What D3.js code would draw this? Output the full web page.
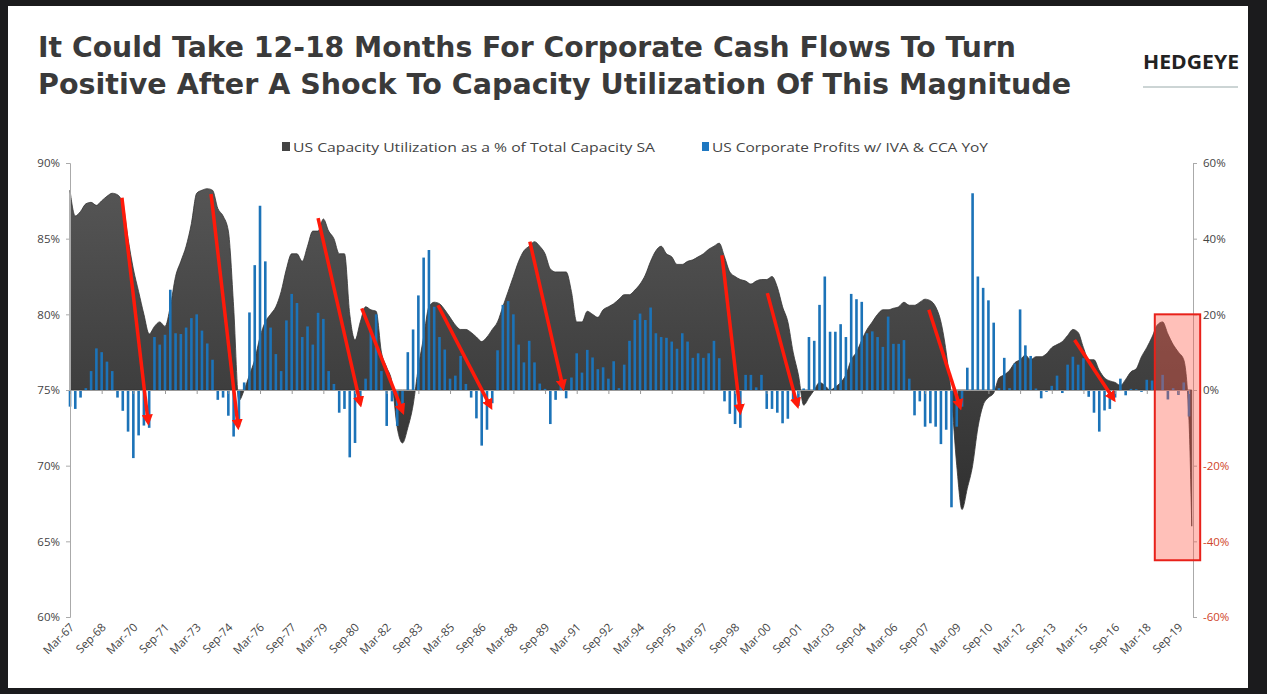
<!DOCTYPE html>
<html><head><meta charset="utf-8">
<script src="https://cdn.jsdelivr.net/npm/d3@7"></script>
<style>body{margin:0;background:#1b1b1d;}svg{display:block}</style>
</head><body><svg id="c" width="1267" height="694"></svg>
<script>
// ---- data ----
const startYear = 1967.17; // Mar-67, quarterly observations
const capUtil = [
88.2,86.5,86.8,87.3, 87.4,87.2,87.5,87.8, 88.0,87.9,87.3,85.0, 83.0,81.5,80.0,78.7,
79.2,79.5,79.2,80.5, 82.5,83.5,84.5,86.0, 88.0,88.2,88.3,88.2, 87.0,86.5,85.5,80.5,
74.3,75.0,76.0,77.0, 78.5,79.5,80.0,80.5, 81.5,83.0,84.0,84.0, 83.5,84.5,85.5,85.5,
86.3,85.5,85.0,84.0, 84.0,80.0,78.3,79.5, 80.5,80.3,80.2,77.5, 76.5,75.5,72.5,71.5,
72.5,74.0,76.5,78.5, 80.5,80.8,80.7,80.3, 79.8,79.3,79.0,79.0, 78.8,78.5,78.2,78.5,
79.0,79.5,80.5,81.5, 82.5,83.5,84.2,84.5, 84.8,84.5,84.0,83.0, 82.8,82.8,82.8,81.5,
79.5,79.5,80.2,80.0, 79.8,80.3,80.5,80.7, 81.0,81.3,81.3,81.6, 82.0,82.6,83.5,84.2,
84.5,84.0,83.8,83.3, 83.3,83.5,83.6,83.8, 84.0,84.3,84.5,84.7, 83.8,82.8,82.5,82.3,
82.2,82.0,82.2,82.3, 82.3,82.5,81.8,80.5, 79.5,77.5,76.0,74.0, 74.5,75.0,75.5,75.3,
75.0,75.2,75.5,76.0, 77.0,77.5,78.3,79.0, 79.5,80.0,80.3,80.3, 80.4,80.5,80.8,80.6,
80.6,80.8,81.0,80.9, 80.5,79.5,77.5,74.5, 70.0,67.1,68.5,70.0, 72.5,74.0,74.5,74.8,
75.8,76.0,76.3,76.8, 77.0,77.3,77.0,77.2, 77.2,77.4,77.8,78.0, 78.2,78.6,79.0,78.8,
77.8,77.0,77.0,76.3, 75.8,75.6,75.5,75.3, 75.7,76.2,76.4,77.2, 77.8,78.5,79.3,79.5,
78.7,78.0,77.5,77.0, 73.0];
const capUtilLast = {year: 2020.3, value: 66.0};
const profitsYoY = [
-4.4,-5,-2,0.5,5,11,10,7.5,5,-2,-5.5,-11,-18,-12,-9.4,-10,14,12,14.6,26.5,15,14.8,16.5,19,20,15.7,12.3,8,-2.6,-2,-6.8,-12.3,-9.7,2,20.5,33,48.7,34,16.5,9.5,5,18.4,25.4,23,14,16.8,12,20.4,18.8,5,1.6,-6,-5,-17.8,
-14,-4,3,16,20,5,-9.5,-3,-9.5,-6,10,16,25,35,37,22,14,10.7,3,3.8,9,1.6,-2,-7.5,-14.7,-10.5,-3.5,10.5,22.5,23.5,20,12,7.3,13,7.3,1.7,0.3,-9,-2.6,1.5,-2.2,3.3,9.7,4.6,10.6,8.6,5.5,6,3,7.6,0.5,6.7,13,
18.5,20.2,18.5,21.8,15,14,13.8,12.8,10.9,15,12.8,8.5,9.7,8.5,9.7,13,8.4,-3,-6.3,-9,-10,4,4,0.7,4,-5,-5,-6,-8.8,-7.6,-2.5,-4.2,0.4,14,13,22.5,30,15.4,15.4,17.4,14,25.4,24,23.3,15,15.5,14,11.4,19.4,12.2,12.2,13.2,3,
-6.7,-3,-9.7,-8.8,-9.7,-14.3,-10.5,-31,-9.7,-4.4,5.9,52,30,27,23.7,17.8,0.5,8.5,0.5,7,21.3,11.8,9,0.4,-2.2,-0.5,1.1,3.8,-0.8,6.7,8.8,6.7,8.4,-1.8,-6,-11,-5.4,-5,-2,3,-1.4,0.3,0.2,-0.5,2.7,2.5,0,4,-2.5,0.5,-1.3,2,-7];
const dateLabels = ["Mar-67","Sep-68","Mar-70","Sep-71","Mar-73","Sep-74","Mar-76","Sep-77","Mar-79","Sep-80","Mar-82","Sep-83","Mar-85","Sep-86","Mar-88","Sep-89","Mar-91","Sep-92","Mar-94","Sep-95","Mar-97","Sep-98","Mar-00","Sep-01","Mar-03","Sep-04","Mar-06","Sep-07","Mar-09","Sep-10","Mar-12","Sep-13","Mar-15","Sep-16","Mar-18","Sep-19"];
const leftTicks = [60,65,70,75,80,85,90];
const rightTicks = [-60,-40,-20,0,20,40,60];
// annotation arrows: [startYear, startCU, endYear, endCU]
const arrows = [
[1969.63,87.7,1970.86,73.0],[1973.85,87.95,1975.12,72.7],[1978.92,86.36,1980.9,74.2],
[1980.99,80.4,1982.89,73.7],[1984.6,80.6,1987.05,74.0],[1988.95,84.8,1990.5,75.3],
[1998.05,83.9,1998.9,73.7],[2000.2,81.4,2001.6,74.1],[2007.85,80.3,2009.3,74.0],
[2014.75,78.3,2016.55,74.5]];
const highlight = {from: 2018.55, to: 2020.7, top: 20, bottom: -45};

// ---- chart ----
const svg = d3.select("#c");
svg.append("rect").attr("x",8).attr("y",6).attr("width",1240).attr("height",682).attr("fill","#fff");

const x = d3.scaleLinear().domain([startYear, startYear+212*0.25]).range([70,1189]);
const yL = d3.scaleLinear().domain([60,90]).range([617,163]);
const yR = d3.scaleLinear().domain([-60,60]).range([617,163]);
const qYear = i => startYear + i*0.25;

// title
const title = svg.append("text").attr("font-family","'DejaVu Sans', sans-serif").attr("font-weight",700).attr("font-size",28).attr("fill","#3a3a3a").attr("lengthAdjust","spacingAndGlyphs");
title.append("tspan").attr("x",38).attr("y",57).attr("textLength",978).attr("lengthAdjust","spacingAndGlyphs").text("It Could Take 12-18 Months For Corporate Cash Flows To Turn");
title.append("tspan").attr("x",38).attr("y",94).attr("textLength",1033).attr("lengthAdjust","spacingAndGlyphs").text("Positive After A Shock To Capacity Utilization Of This Magnitude");
svg.append("text").attr("x",1143).attr("y",69).attr("textLength",96).attr("lengthAdjust","spacingAndGlyphs").attr("font-family","'Open Sans', sans-serif").attr("font-weight",700).attr("font-size",19).attr("fill","#222").text("HEDGEYE");
svg.append("line").attr("x1",1143).attr("x2",1238).attr("y1",87).attr("y2",87).attr("stroke","#9aa").attr("stroke-width",1);

// legend
const lg = svg.append("g").attr("font-family","'Open Sans', sans-serif").attr("font-size",13.5).attr("fill","#444");
lg.append("rect").attr("x",282).attr("y",142).attr("width",8).attr("height",9).attr("fill","#444");
lg.append("text").attr("x",293).attr("y",152).attr("textLength",362).attr("lengthAdjust","spacingAndGlyphs").text("US Capacity Utilization as a % of Total Capacity SA");
lg.append("rect").attr("x",702).attr("y",142).attr("width",7).attr("height",9).attr("fill","#1f78c1");
lg.append("text").attr("x",712).attr("y",152).attr("textLength",276).attr("lengthAdjust","spacingAndGlyphs").text("US Corporate Profits w/ IVA & CCA YoY");

// area
const cuPts = capUtil.map((v,i)=>({year:qYear(i), value:v})).concat([capUtilLast]);
const area = d3.area().x(d=>x(d.year)).y0(yL(75)).y1(d=>yL(d.value)).curve(d3.curveMonotoneX);
const grad = svg.append("defs").append("linearGradient").attr("id","g").attr("x1",0).attr("x2",0).attr("y1",0).attr("y2",1);
grad.append("stop").attr("offset","0").attr("stop-color","#555");
grad.append("stop").attr("offset","1").attr("stop-color","#2e2e2e");
svg.append("path").datum(cuPts).attr("d",area).attr("fill","url(#g)").attr("stroke","#333").attr("stroke-width",0.8);

// bars
svg.append("g").selectAll("rect").data(profitsYoY).join("rect")
  .attr("x",(d,i)=>x(qYear(i))-1.3).attr("width",2.6)
  .attr("y",d=>yR(Math.max(0,d))).attr("height",d=>Math.abs(yR(d)-yR(0)))
  .attr("fill","#1c73b8");

// axes
const axL = svg.append("g").attr("transform","translate(70,0)").call(d3.axisLeft(yL).tickValues(leftTicks).tickSize(4).tickFormat(d=>d+"%"));
axL.selectAll("text").attr("font-family","'Open Sans', sans-serif").attr("font-size",11.5).attr("fill","#444").attr("x",-10);
axL.selectAll("line,path").attr("stroke","#aaa");
const axR = svg.append("g").attr("transform","translate(1193,0)").call(d3.axisRight(yR).tickValues(rightTicks).tickSize(4).tickFormat(d=>d+"%"));
axR.selectAll("text").attr("font-family","'Open Sans', sans-serif").attr("font-size",11.5).attr("x",10).attr("fill",d=>d<0?"#d0452a":"#444");
axR.selectAll("line,path").attr("stroke","#aaa");
const tickYears = dateLabels.map((l,i)=>startYear+1.5*i);
const axB = svg.append("g").attr("transform",`translate(0,${yL(75)})`).call(d3.axisBottom(x).tickValues(tickYears).tickSize(4).tickFormat(""));
axB.selectAll("line,path").attr("stroke","#999");
svg.append("g").selectAll("text").data(dateLabels).join("text")
  .attr("transform",(d,i)=>`translate(${x(tickYears[i])+5},${628}) rotate(-45)`)
  .attr("text-anchor","end").attr("font-family","'Open Sans', sans-serif").attr("font-size",11.5).attr("fill","#444").text(d=>d);

// arrows
svg.append("defs").append("marker").attr("id","ah").attr("viewBox","0 0 10 10").attr("refX",5).attr("refY",5)
  .attr("markerWidth",3.2).attr("markerHeight",3.2).attr("orient","auto")
  .append("path").attr("d","M0,0L10,5L0,10z").attr("fill","#ff1a0a");
svg.append("g").selectAll("line").data(arrows).join("line")
  .attr("x1",d=>x(d[0])).attr("y1",d=>yL(d[1])).attr("x2",d=>x(d[2])).attr("y2",d=>yL(d[3]))
  .attr("stroke","#ff1a0a").attr("stroke-width",3.5).attr("marker-end","url(#ah)");

// highlight box
svg.append("rect").attr("x",x(highlight.from)).attr("y",yR(highlight.top))
  .attr("width",x(highlight.to)-x(highlight.from)).attr("height",yR(highlight.bottom)-yR(highlight.top))
  .attr("fill","rgba(255,90,70,0.38)").attr("stroke","#e8211a").attr("stroke-width",2);
</script></body></html>
